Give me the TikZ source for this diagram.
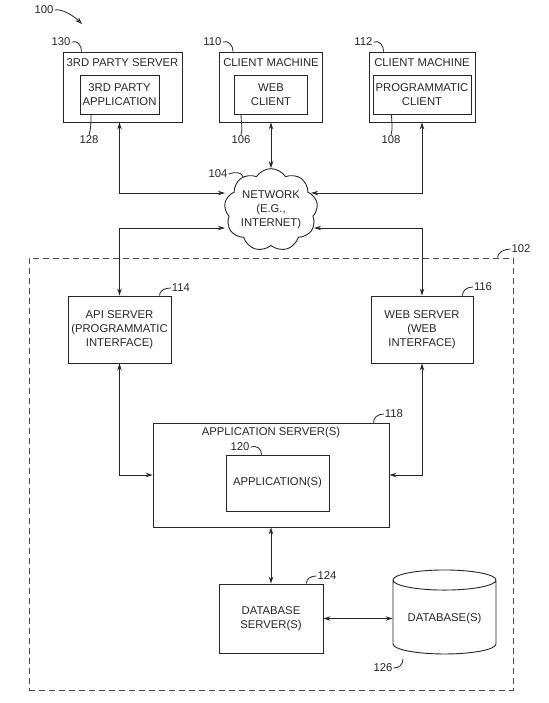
\documentclass[tikz,border=0pt]{standalone}
\usepackage{fontspec}
\setmainfont{Liberation Sans}
\usetikzlibrary{arrows.meta}
\usetikzlibrary{shapes.symbols,shapes.geometric}

\begin{document}
\begin{tikzpicture}[x=1pt,y=-1pt,
  every node/.style={font=\fontsize{11.3}{14}\selectfont, text=black!85},
  box/.style={draw=black!85, line width=0.9pt, rectangle, align=center, inner sep=1pt},
  title/.style={inner sep=0pt},
  lbl/.style={inner sep=1pt},
  leader/.style={draw=black!85, line width=0.8pt},
  dblarrow/.style={draw=black!85, line width=0.9pt,
    {Stealth[length=7pt,width=4.5pt]}-{Stealth[length=7pt,width=4.5pt]}},
  sysbox/.style={draw=black!70, line width=1pt, dash pattern=on 6pt off 4pt}]

\useasboundingbox (0,0) rectangle (548,703);

% top row
\node[box, minimum width=119, minimum height=70] (tps) at (122.5,87) {};
\node[title] (tpst) at ([yshift=-11pt]tps.north) {3RD PARTY SERVER};
\node[box, minimum width=79, minimum height=39] (tpa) at (119.5,94.5) {3RD PARTY\\APPLICATION};

\node[box, minimum width=103, minimum height=70] (cm1) at (271,87) {};
\node[title] (cm1t) at ([yshift=-11pt]cm1.north) {CLIENT MACHINE};
\node[box, minimum width=73, minimum height=39] (wc) at (271,94.5) {WEB\\CLIENT};

\node[box, minimum width=106, minimum height=70] (cm2) at (422,87) {};
\node[title] (cm2t) at ([yshift=-11pt]cm2.north) {CLIENT MACHINE};
\node[box, minimum width=98, minimum height=39] (pcl) at (422,94.5) {PROGRAMMATIC\\CLIENT};

% network
\node[cloud, draw=black!85, line width=0.9pt, cloud puffs=9, cloud puff arc=115, aspect=1.2,
  minimum width=93, minimum height=75, align=center, inner sep=0pt] (net) at (271,210)
  {NETWORK\\(E.G.,\\INTERNET)};

% system
\node[sysbox, minimum width=484, minimum height=432] (sys) at (271,474) {};

\node[box, minimum width=103, minimum height=67] (api) at (119.5,329.5) {API SERVER\\(PROGRAMMATIC\\INTERFACE)};
\node[box, minimum width=102, minimum height=67] (webs) at (422,329.5) {WEB SERVER\\(WEB\\INTERFACE)};

\node[box, minimum width=236, minimum height=104] (app) at (271,475) {};
\node[title] (appt) at ([yshift=-10pt]app.north) {APPLICATION SERVER(S)};
\node[box, minimum width=103, minimum height=56] (appi) at (277.5,483) {APPLICATION(S)};

\node[box, minimum width=104, minimum height=69] (dbs) at (271,618.5) {DATABASE\\SERVER(S)};
\node[cylinder, draw=black!85, line width=0.9pt, shape border rotate=90, aspect=0.25,
  minimum width=103, minimum height=84] (db) at (444.5,619) {DATABASE(S)};

% connectors
\draw[dblarrow] (tps.south -| api) |- ([yshift=17pt]net.west);
\draw[dblarrow] (api.north) |- ([yshift=-18pt]net.west);
\draw[dblarrow] (cm1.south) -- (net.north);
\draw[dblarrow] (cm2.south -| webs) |- ([yshift=17pt,xshift=-6pt]net.east);
\draw[dblarrow] (webs.north) |- ([yshift=-18pt,xshift=-3pt]net.east);
\draw[dblarrow] (api.south) |- (app.west);
\draw[dblarrow] (webs.south) |- (app.east);
\draw[dblarrow] (app.south) -- (dbs.north);
\draw[dblarrow] (dbs.east) -- (db.west |- dbs.east);

% reference numerals
\node[lbl] (l100) at (44,10) {100};
\coordinate (c100) at (82,24);
\draw[leader, -{Stealth[open,length=7pt,width=5pt]}] (l100.east) .. controls +(8,-2) and +(-6,-6) .. (c100);

\node[lbl] (l130) at (61,42) {130};
\draw[leader] (l130.east) .. controls +(6,-2) and +(0,-6) .. ([xshift=19pt]tps.north west);
\node[lbl] (l110) at (212.5,42) {110};
\draw[leader] (l110.east) .. controls +(6,-2) and +(0,-6) .. ([xshift=14pt]cm1.north west);
\node[lbl] (l112) at (363.5,42) {112};
\draw[leader] (l112.east) .. controls +(6,-2) and +(0,-6) .. ([xshift=15pt]cm2.north west);

\node[lbl] (l128) at (89,140) {128};
\draw[leader] ([xshift=11.5pt]tpa.south west) .. controls +(0,8) and +(2,-6) .. (l128.north);
\node[lbl] (l106) at (241,140) {106};
\draw[leader] ([xshift=7pt]wc.south west) .. controls +(0,8) and +(2,-6) .. (l106.north);
\node[lbl] (l108) at (391,140) {108};
\draw[leader] ([xshift=19pt]pcl.south west) .. controls +(0,8) and +(2,-6) .. (l108.north);

\node[lbl] (l104) at (218,174) {104};
\draw[leader] (l104.east) .. controls +(6,-2) and +(-2,-5) .. (net.130);

\node[lbl] (l102) at (521,249) {102};
\draw[leader] (l102.west) .. controls +(-6,0) and +(0,-5) .. ([xshift=-16pt]sys.north east);
\node[lbl] (l114) at (181,288) {114};
\draw[leader] (l114.west) .. controls +(-6,0) and +(0,-5) .. ([xshift=-12pt]api.north east);
\node[lbl] (l116) at (483,287) {116};
\draw[leader] (l116.west) .. controls +(-6,0) and +(0,-5) .. ([xshift=-11pt]webs.north east);
\node[lbl] (l118) at (394,414) {118};
\draw[leader] (l118.west) .. controls +(-6,0) and +(0,-5) .. ([xshift=-16pt]app.north east);
\node[lbl] (l124) at (327,576) {124};
\draw[leader] (l124.west) .. controls +(-6,0) and +(0,-5) .. ([xshift=-17pt]dbs.north east);

\node[lbl] (l120) at (240,447) {120};
\draw[leader] (l120.east) .. controls +(6,-2) and +(0,-6) .. ([xshift=36pt]appi.north west);

\node[lbl] (l126) at (383,668) {126};
\draw[leader] (l126.east) .. controls +(6,0) and +(0,5) .. ([shift={(-41.5,40)}]db.center);

\end{tikzpicture}
\end{document}
